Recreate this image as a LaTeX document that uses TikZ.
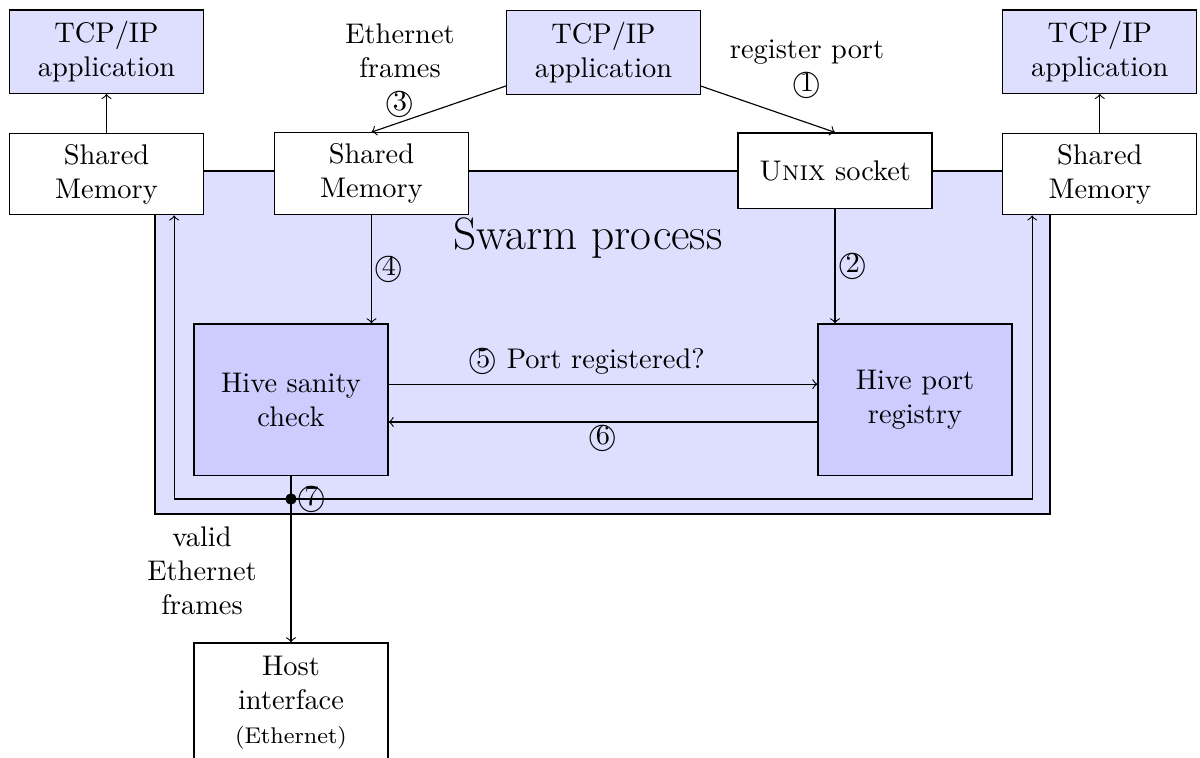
\documentclass[tikz,border=0pt]{standalone}
\usetikzlibrary{positioning}

\begin{document}
\begin{tikzpicture}[
  box/.style={draw, fill=white, minimum width=2.4cm, align=center},
  appbox/.style={box, fill=blue!13, minimum height=1.03cm},
  shmbox/.style={box, minimum height=1.01cm},
  hivebox/.style={box, fill=blue!20, minimum height=1.87cm},
  num/.style={inner sep=1pt}
]

\useasboundingbox (0,0) rectangle (14.85,-9.38);

\def\ly{-6.175} \def\dx{0.37cm}

% swarm process
\draw[fill=blue!13] (1.918,-2.116) rectangle (12.994,-6.361);
\node[font=\fontsize{16}{19}\selectfont] (swarm) at (7.277,-2.95) {Swarm process};

% boxes on the border of the process
\node[shmbox] (shmL) at (1.318,-2.153) {Shared\\Memory};
\node[shmbox] (shmM) at (4.597,-2.147) {Shared\\Memory};
\node[box, minimum height=0.93cm] (unix) at (10.333,-2.110) {\textsc{Unix} socket};
\node[shmbox] (shmR) at (13.610,-2.153) {Shared\\Memory};

% applications
\node[appbox, above=0.48cm of shmL] (appL) {TCP/IP\\application};
\node[appbox] (appM) at (7.468,-0.650) {TCP/IP\\application};
\node[appbox, above=0.48cm of shmR] (appR) {TCP/IP\\application};

% hive
\node[hivebox] (sanity) at (3.601,-4.944) {Hive sanity\\check};
\node[hivebox] (registry) at (11.323,-4.944) {Hive port\\registry};
\node[box, minimum height=1.48cm] (host) at (3.601,-8.697) {Host\\interface\\{\footnotesize (Ethernet)}};

% labels
\node[align=center] (ethlbl) at (4.95,-0.872) {Ethernet\\frames\\\textcircled{3}};
\node[align=center] (reglbl) at (9.987,-0.854) {register port\\\textcircled{1}};

% connections
\draw[->] (shmL) -- (appL);
\draw[->] (shmR) -- (appR);
\draw[->] (appM) -- (shmM.north);
\draw[->] (appM) -- (unix.north);
\draw[->] (shmM.south) -- node[right,num]{\textcircled{4}} (shmM.south |- sanity.north);
\draw[->] (unix.south) -- node[right,num]{\textcircled{2}} (unix.south |- registry.north);
\draw[->] ([yshift=0.19cm]sanity.east) -- node[above, xshift=-0.2cm]{\textcircled{5} Port registered?} ([yshift=0.19cm]registry.west);
\draw[->] ([yshift=-0.278cm]registry.west) -- node[below, num]{\textcircled{6}} ([yshift=-0.278cm]sanity.east);

% output of the sanity check
\coordinate (dot) at (sanity.south |- 0,\ly);
\draw (sanity) -- (dot);
\draw[->] (dot) -| ([xshift=-\dx]shmL.south east);
\draw[->] (dot) -| ([xshift=\dx]shmR.south west);
\draw[->] (dot) -- node[left=3mm, align=center]{valid\\Ethernet\\frames} (host);
\fill (dot) circle (2pt);
\node[right=2pt of dot, inner sep=0pt] (seven) {\textcircled{7}};

\end{tikzpicture}
\end{document}
